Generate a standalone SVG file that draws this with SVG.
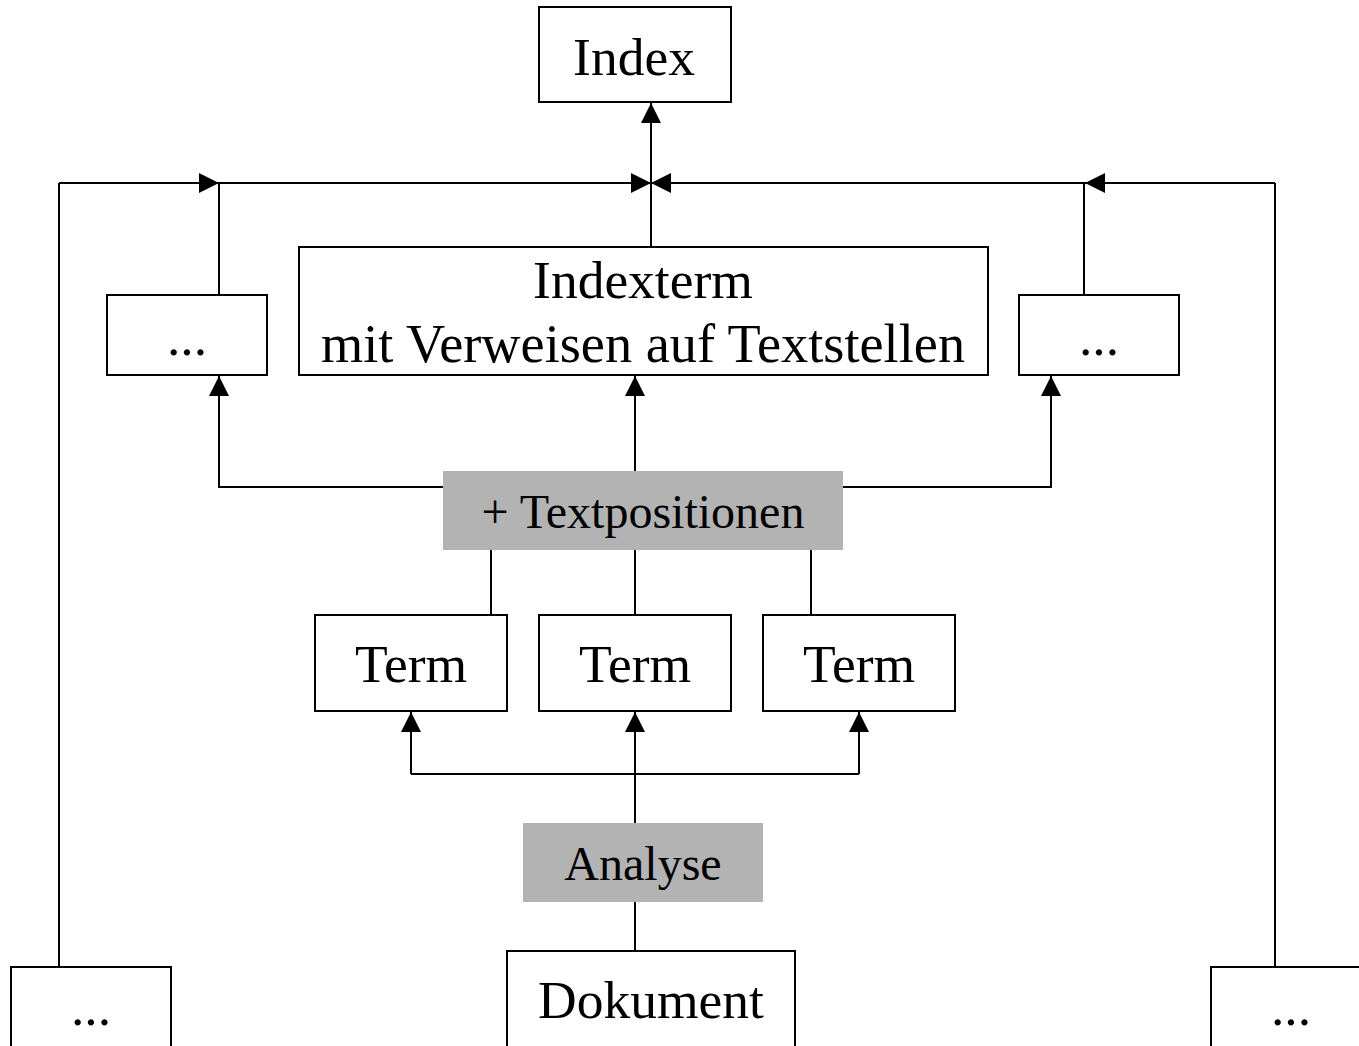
<svg xmlns="http://www.w3.org/2000/svg" width="1359" height="1046" viewBox="0 0 1359 1046">
<defs>
<marker id="ah" viewBox="0 0 20 20" refX="20" refY="10" markerWidth="20" markerHeight="20" markerUnits="userSpaceOnUse" orient="auto">
<path d="M0,0 L20,10 L0,20 Z" fill="#000"/>
</marker>
<style>
.box{fill:#fff;stroke:#000;stroke-width:2}
.gray{fill:#b3b3b3;stroke:none}
.t{font-family:"Liberation Serif","Times New Roman",serif;font-size:53.5px;fill:#000;text-anchor:middle}
.g{font-size:48px}
.c{fill:none;stroke:#000;stroke-width:2}
.a{fill:none;stroke:#000;stroke-width:2;marker-end:url(#ah)}
</style>
</defs>
<rect width="1359" height="1046" fill="#fff"/>
<g id="connectors">
<line class="c" x1="59" y1="183" x2="1275" y2="183"/>
<line class="c" x1="59" y1="967" x2="59" y2="183"/>
<line class="c" x1="1275" y1="967" x2="1275" y2="183"/>
<line class="a" x1="180" y1="183" x2="219" y2="183"/>
<line class="c" x1="219" y1="295" x2="219" y2="183"/>
<line class="a" x1="600" y1="183" x2="651" y2="183"/>
<line class="a" x1="700" y1="183" x2="651" y2="183"/>
<line class="a" x1="651" y1="247" x2="651" y2="103"/>
<line class="a" x1="1130" y1="183" x2="1085" y2="183"/>
<line class="c" x1="1084" y1="295" x2="1084" y2="183"/>
<polyline class="c" points="443,487 219,487 219,400"/>
<line class="a" x1="219" y1="420" x2="219" y2="376"/>
<polyline class="c" points="843,487 1051,487 1051,400"/>
<line class="a" x1="1051" y1="420" x2="1051" y2="376"/>
<line class="a" x1="635" y1="471" x2="635" y2="376"/>
<line class="c" x1="491" y1="550" x2="491" y2="615"/>
<line class="c" x1="635" y1="550" x2="635" y2="615"/>
<line class="c" x1="811" y1="550" x2="811" y2="615"/>
<line class="c" x1="411" y1="774" x2="859" y2="774"/>
<line class="a" x1="411" y1="774" x2="411" y2="712"/>
<line class="a" x1="635" y1="774" x2="635" y2="712"/>
<line class="a" x1="859" y1="774" x2="859" y2="712"/>
<line class="c" x1="635" y1="774" x2="635" y2="823"/>
<line class="c" x1="635" y1="902" x2="635" y2="951"/>
</g>
<g id="index"><rect class="box" x="539" y="7" width="192" height="95"/><text class="t" x="634" y="75">Index</text></g>
<g id="dots-left"><rect class="box" x="107" y="295" width="160" height="80"/><text class="t" x="187" y="355">...</text></g>
<g id="indexterm"><rect class="box" x="299" y="247" width="689" height="128"/><text class="t" x="643" y="298">Indexterm</text><text class="t" x="643" y="362" style="font-size:54.3px">mit Verweisen auf Textstellen</text></g>
<g id="dots-right"><rect class="box" x="1019" y="295" width="160" height="80"/><text class="t" x="1099" y="355">...</text></g>
<g id="textpositionen"><rect class="gray" x="443" y="471" width="400" height="79"/><text class="t g" x="643" y="528">+ Textpositionen</text></g>
<g id="term1"><rect class="box" x="315" y="615" width="192" height="96"/><text class="t" x="411" y="682">Term</text></g>
<g id="term2"><rect class="box" x="539" y="615" width="192" height="96"/><text class="t" x="635" y="682">Term</text></g>
<g id="term3"><rect class="box" x="763" y="615" width="192" height="96"/><text class="t" x="859" y="682">Term</text></g>
<g id="analyse"><rect class="gray" x="523" y="823" width="240" height="79"/><text class="t g" x="643" y="880">Analyse</text></g>
<g id="dokument"><rect class="box" x="507" y="951" width="288" height="110"/><text class="t" x="651" y="1018">Dokument</text></g>
<g id="dots-bottom-left"><rect class="box" x="11" y="967" width="160" height="100"/><text class="t" x="91" y="1025">...</text></g>
<g id="dots-bottom-right"><rect class="box" x="1211" y="967" width="160" height="100"/><text class="t" x="1291" y="1025">...</text></g>
</svg>
